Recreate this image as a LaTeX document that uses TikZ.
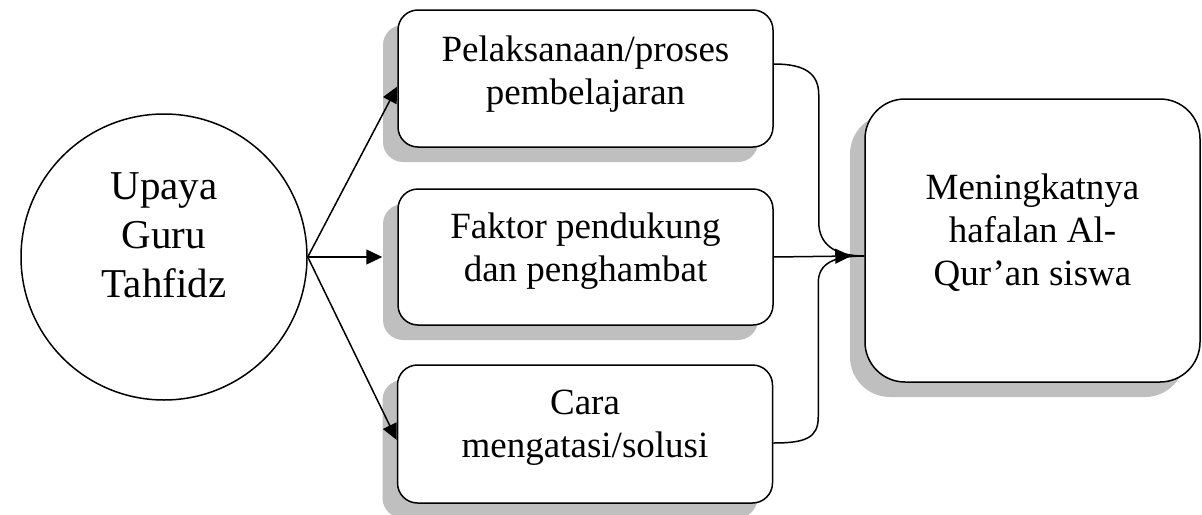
\documentclass[tikz,border=0pt]{standalone}
\usepackage{fontspec}
\setmainfont{Liberation Serif}
\usetikzlibrary{arrows.meta,shadows,calc}
\begin{document}
\begin{tikzpicture}[x=1pt,y=-1pt,
  shad/.style={drop shadow={shadow xshift=-15pt,shadow yshift=-15pt,fill=gray!50,opacity=1}},
  box/.style={draw,line width=1.5pt,rounded corners=20pt,fill=white,
    minimum width=375pt,minimum height=137pt,inner sep=0pt,shad},
  goalbox/.style={draw,line width=1.5pt,rounded corners=40pt,fill=white,
    minimum width=335pt,minimum height=283pt,inner sep=0pt,shad},
  circ/.style={draw,circle,line width=1.5pt,minimum size=286pt,inner sep=0pt},
  txt/.style={inner sep=0pt,align=center,font=\fontsize{37}{43}\selectfont},
  bigtxt/.style={inner sep=0pt,align=center,font=\fontsize{41}{49}\selectfont},
  conn/.style={line width=1.5pt},
  arr/.style={line width=1.5pt,-{Triangle[length=16pt,width=15pt]}}
]
\useasboundingbox (0,0) rectangle (1202,514);

\node[circ] (c) at (164,257) {};
\node[bigtxt] (ct) at ($(c.center)+(0,-22)$) {Upaya\\Guru\\Tahfidz};

\node[box] (b1) at (585.5,78.5) {};
\node[txt] (t1) at ($(b1.center)+(0,-4.5)$) {Pelaksanaan/proses\\pembelajaran};

\node[box,minimum height=136pt] (b2) at (585.5,257) {};
\node[txt] (t2) at ($(b2.center)+(0,-6)$) {Faktor pendukung\\dan penghambat};

\node[box,minimum height=138pt] (b3) at (585,434) {};
\node[txt] (t3) at ($(b3.center)+(0,-6)$) {Cara\\mengatasi/solusi};

\node[goalbox] (g) at (1032.5,240.5) {};
\node[txt] (gt) at ($(g.center)+(0,-7.5)$) {Meningkatnya\\hafalan Al-\\Qur’an siswa};

\coordinate (j) at ($(g.west)+(0,15.5)$);
\coordinate (jt) at ($(j)+(-13,0)$);

\draw[arr] (c.east) -- ($(b1.west)+(0,8)$);
\draw[arr] (c.east) -- ($(b2.west)+(-15,0)$);
\draw[arr] (c.east) -- ($(b3.west)+(0,6)$);

\draw[conn] (jt) -- (j);
\draw[arr] (b2.east) -- (jt);
\draw[conn] ($(b1.east)+(0,-14.5)$) .. controls +(32,0) and +(0,-21) .. ++(45,31)
  -- ++(0,127) .. controls +(0,22) and +(-30,0) .. (j);
\draw[conn] ($(b3.east)+(0,9)$) .. controls +(32,0) and +(0,21) .. ++(45,-26)
  -- ++(0,-134) .. controls +(0,-20) and +(-30,0) .. (j);
\end{tikzpicture}
\end{document}
